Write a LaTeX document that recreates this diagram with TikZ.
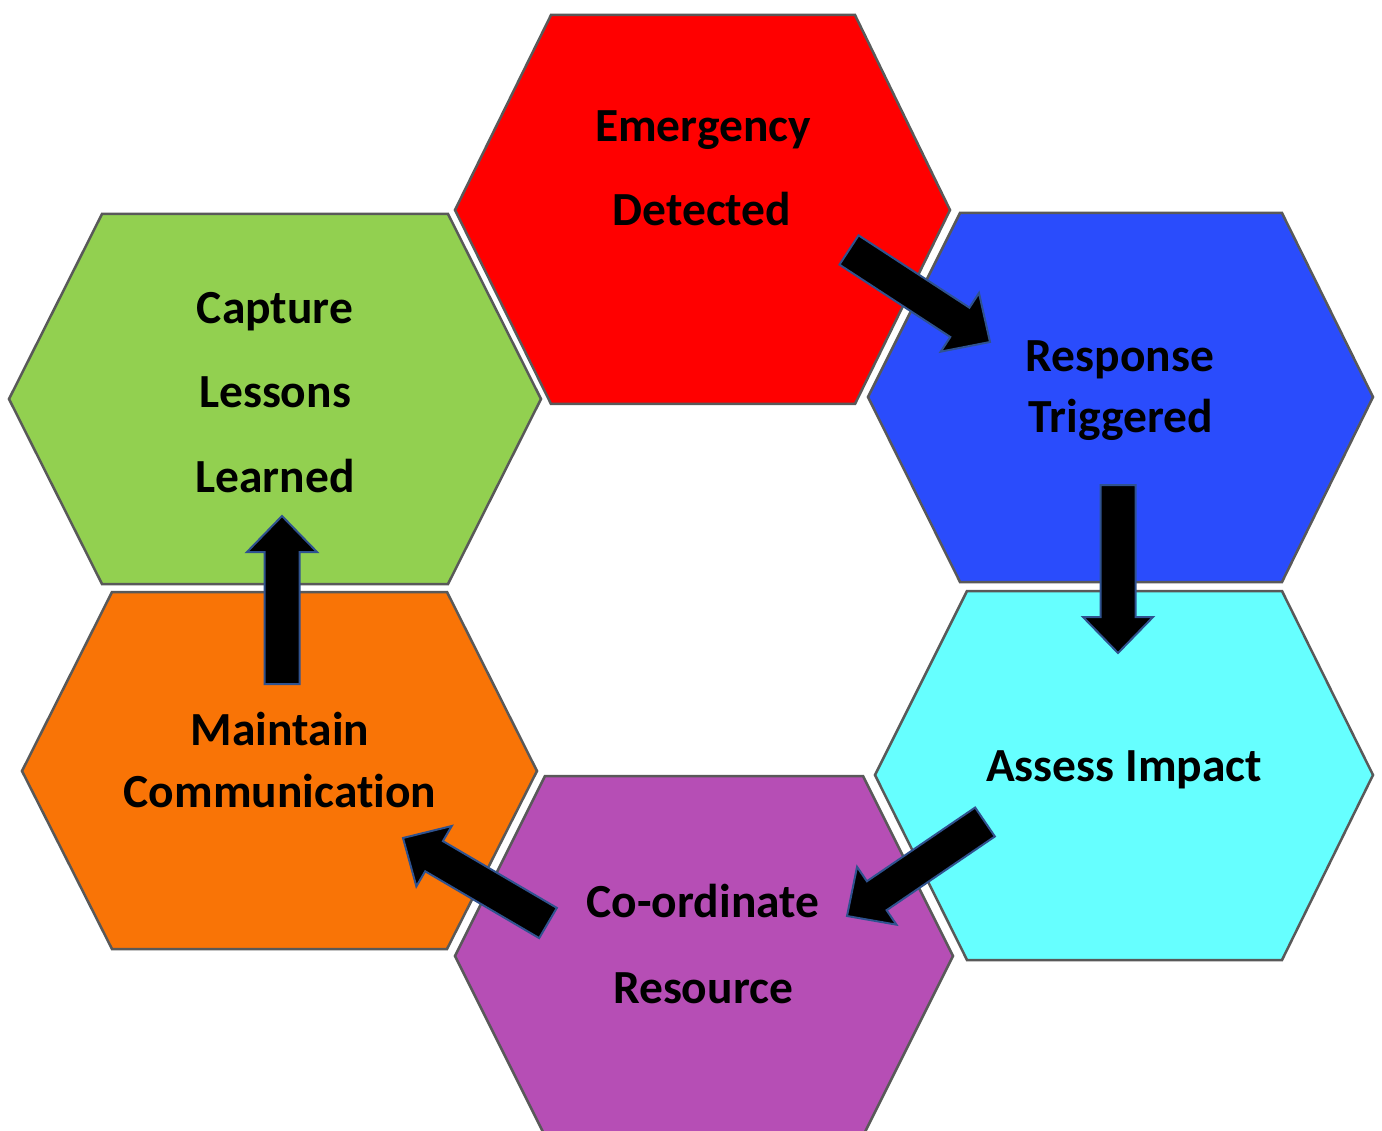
\documentclass[tikz,border=0pt]{standalone}
\usepackage{fontspec}
\setmainfont{Carlito}[Ligatures={NoCommon}]
\usetikzlibrary{calc}
\definecolor{hred}{HTML}{FF0000}
\definecolor{hblue}{HTML}{2A4CFC}
\definecolor{hcyan}{HTML}{66FFFF}
\definecolor{hpurple}{HTML}{B64EB5}
\definecolor{horange}{HTML}{F97406}
\definecolor{hgreen}{HTML}{92D050}
\definecolor{hexline}{HTML}{595959}
\definecolor{arrline}{HTML}{2F528F}
\tikzset{
  hexbox/.style={draw=hexline, line width=2.5pt, line join=miter},
  lbl/.style={font=\fontsize{47.5}{57}\selectfont\bfseries, anchor=base, inner sep=0pt},
  blockarr/.style={fill=black, draw=arrline, line width=2pt, line join=miter}
}
\newcommand\blkarrow[1]{%
  \coordinate (#1h) at ($(#1e)!36pt!(#1s)$);
  \path[blockarr] ($(#1s)!17.5pt!90:(#1e)$) -- ($(#1h)!17.5pt!90:(#1e)$) -- ($(#1h)!35pt!90:(#1e)$) -- (#1e) -- ($(#1h)!35pt!-90:(#1e)$) -- ($(#1h)!17.5pt!-90:(#1e)$) -- ($(#1s)!17.5pt!-90:(#1e)$) -- cycle;}
\begin{document}
\begin{tikzpicture}[x=1pt,y=-1pt]
\useasboundingbox (0,0) rectangle (1382,1131);
\clip (0,0) rectangle (1382,1131);
% hexagons
\path[hexbox, fill=hred] (551,15) -- (855,15) -- (950,210) -- (855,404) -- (551,404) -- (455,210) -- cycle;
\path[hexbox, fill=hblue] (960,213) -- (1282,213) -- (1373,397) -- (1282,582) -- (960,582) -- (868,397) -- cycle;
\path[hexbox, fill=hcyan] (967,591) -- (1282,591) -- (1373,775) -- (1282,960) -- (967,960) -- (875,775) -- cycle;
\path[hexbox, fill=hpurple] (545,776) -- (863,776) -- (953,956) -- (863,1136) -- (545,1136) -- (455,956) -- cycle;
\path[hexbox, fill=horange] (112,592) -- (447,592) -- (537,771) -- (447,949) -- (112,949) -- (22,771) -- cycle;
\path[hexbox, fill=hgreen] (102,214) -- (448,214) -- (541,399) -- (448,584) -- (102,584) -- (9,399) -- cycle;
\coordinate (red) at (703,210);
\coordinate (blue) at (1120,397);
\coordinate (cyan) at (1124,775);
\coordinate (purple) at (704,956);
\coordinate (orange) at (280,771);
\coordinate (green) at (275,399);
% labels
\node[lbl] (t1a) at (703,142) {Emergency};
\node[lbl] (t1b) at (702,226) {Detected};
\node[lbl] (t2a) at (1120,372) {Response};
\node[lbl] (t2b) at (1121,433) {Triggered};
\node[lbl] (t3a) at (1124,781) {Assess Impact};
\node[lbl] (t4a) at (703,917) {Co-ordinate};
\node[lbl] (t4b) at (703,1003) {Resource};
\node[lbl] (t5a) at (280,745) {Maintain};
\node[lbl] (t5b) at (280,807) {Communication};
\node[lbl] (t6a) at (275,324) {Capture};
\node[lbl] (t6b) at (275,408) {Lessons};
\node[lbl] (t6c) at (275,493) {Learned};
% arrows
\coordinate (a1s) at (849,250); \coordinate (a1e) at (990,342);
\coordinate (a2s) at (1118,485); \coordinate (a2e) at (1118,653);
\coordinate (a3s) at (985,822); \coordinate (a3e) at (847,916);
\coordinate (a4s) at (548,923); \coordinate (a4e) at (403,838);
\coordinate (a5s) at (282,684); \coordinate (a5e) at (282,516);
\blkarrow{a1}
\blkarrow{a2}
\blkarrow{a3}
\blkarrow{a4}
\blkarrow{a5}
\end{tikzpicture}
\end{document}
